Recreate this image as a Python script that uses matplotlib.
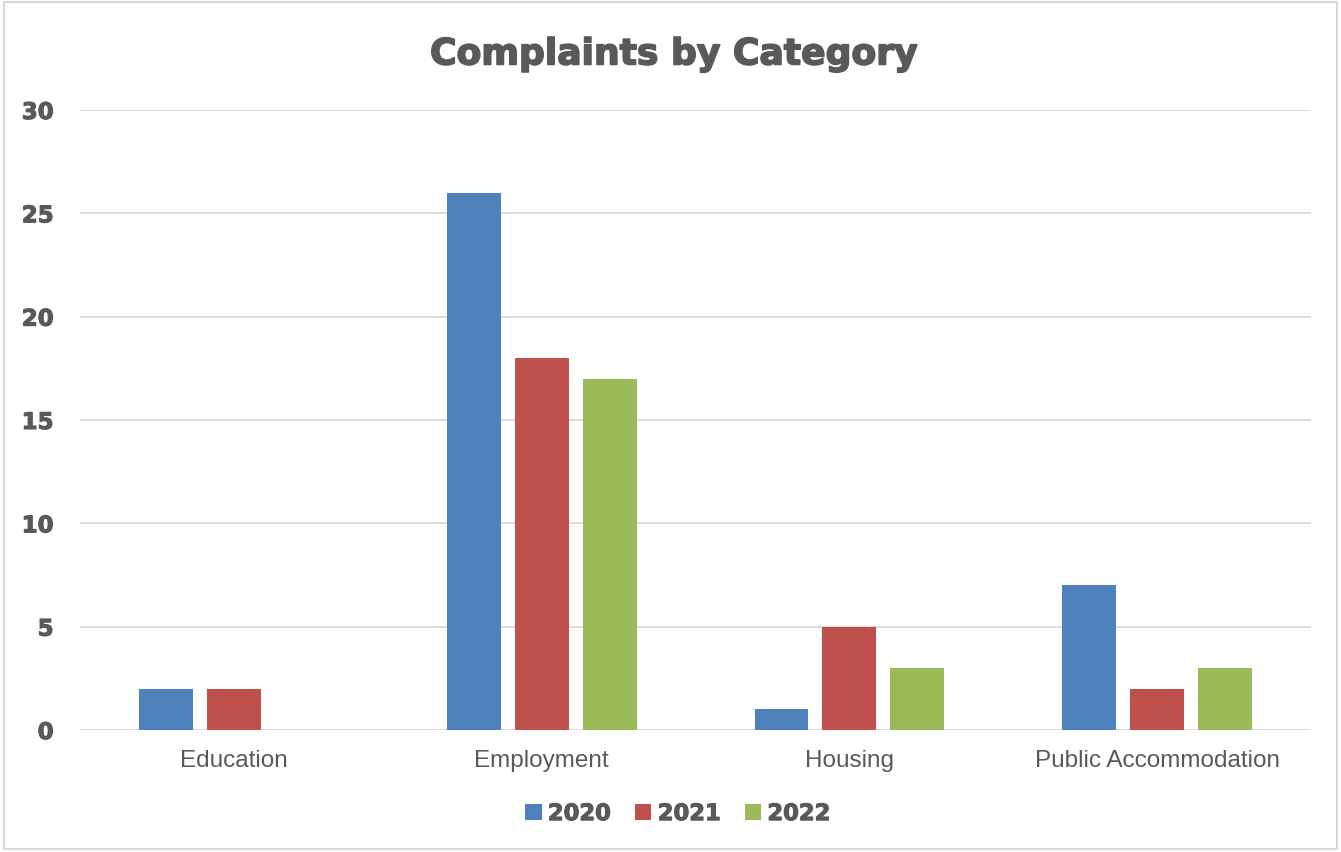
import matplotlib
matplotlib.use("Agg")
import matplotlib.pyplot as plt
import matplotlib.patheffects as pe
import numpy as np
from matplotlib.patches import Rectangle

categories = ["Education", "Employment", "Housing", "Public Accommodation"]
series_names = ["2020", "2021", "2022"]
v2020 = [2, 26, 1, 7]
v2021 = [2, 18, 5, 2]
v2022 = [0, 17, 3, 3]
yticks = [0, 5, 10, 15, 20, 25, 30]

colors = ["#4F81BD", "#C0504D", "#9BBB59"]
txt = "#595959"
plt.rcParams['font.family'] = ['Liberation Sans', 'DejaVu Sans']
heavy_family = ['DejaVu Sans']
stroke_big = [pe.withStroke(linewidth=1.2, foreground=txt)]
stroke_small = [pe.withStroke(linewidth=0.8, foreground=txt)]

fig = plt.figure(figsize=(13.41, 8.53), dpi=100)
fig.patches.append(Rectangle((0.003, 0.003), 0.994, 0.994, transform=fig.transFigure,
                             fill=False, edgecolor="#D9D9D9", linewidth=1.5))
ax = fig.add_axes([0.0597, 0.143, 0.9179, 0.7269])

x = np.arange(len(categories))
bw = 0.175
step = 0.2208
for i, (vals, name) in enumerate(zip([v2020, v2021, v2022], series_names)):
    ax.bar(x + (i - 1) * step, vals, width=bw, color=colors[i], label=name, zorder=3)

ax.set_xlim(-0.5, len(categories) - 0.5)
ax.set_ylim(0, 30)
ax.set_yticks(yticks)
ax.set_yticklabels([str(t) for t in yticks], fontsize=16.5, fontweight='bold',
                   color=txt, family=heavy_family)
for t in ax.get_yticklabels():
    t.set_path_effects(stroke_small)
ax.set_xticks(x)
ax.set_xticklabels(categories, fontsize=17.5, color=txt)
ax.tick_params(axis='y', length=0, pad=19)
ax.tick_params(axis='x', length=0, pad=14)
ax.grid(axis='y', color="#D9D9D9", linewidth=1.3, zorder=0)
for s in ax.spines.values():
    s.set_visible(False)

fig.text(0.5025, 0.935, "Complaints by Category", ha='center', va='center',
         fontsize=26, fontweight='bold', color=txt, family=heavy_family,
         path_effects=stroke_big)

leg = fig.legend(loc='center', bbox_to_anchor=(0.5055, 0.045), ncol=3, frameon=False,
                 prop={'size': 16.3, 'weight': 'bold', 'family': heavy_family},
                 handlelength=0.72, handleheight=0.72,
                 handletextpad=0.28, columnspacing=1.06)
for t in leg.get_texts():
    t.set_color(txt)
    t.set_path_effects(stroke_small)

fig.savefig("out.png", dpi=100)
